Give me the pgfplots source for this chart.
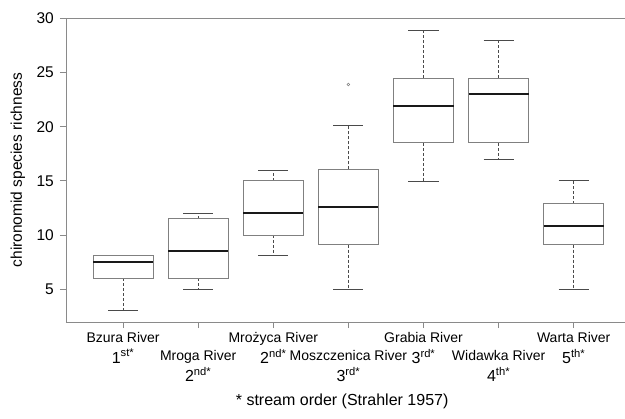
\documentclass[border=0pt]{standalone}
\usepackage{fontspec}
\setmainfont{Liberation Sans}
\usepackage{pgfplots}
\pgfplotsset{compat=1.18}
\usepgfplotslibrary{statistics}
\definecolor{boxgray}{HTML}{808080}
\definecolor{whiskgray}{HTML}{4A4A4A}
\definecolor{axgray}{HTML}{8A8A8A}
\newcommand{\ord}[2]{{\fontsize{16}{18}\selectfont\strut #1\textsuperscript{#2}}}
\begin{document}
\begin{tikzpicture}
\begin{axis}[
  name=ax,
  scale only axis,
  width=559pt, height=304pt,
  xmin=0.24, xmax=7.683,
  ymin=1.96, ymax=30.04,
  axis x line=box, axis y line=left,
  axis line style={-, draw=axgray, line width=0.8pt},
  xtick pos=lower, ytick pos=lower,
  tick align=outside, major tick length=6pt,
  tick style={draw=axgray, line width=0.8pt},
  ytick={5,10,15,20,25,30},
  xtick={1,2,3,4,5,6,7},
  /pgf/number format/assume math mode=true,
  yticklabel style={font=\fontsize{15.5}{18}\selectfont, inner sep=0pt, xshift=-6pt},
  xticklabel style={font=\fontsize{14}{18}\selectfont, align=center, inner sep=0pt, anchor=north, yshift=-2pt},
  xticklabels={
    {\strut Bzura River\\\ord{1}{st*}},
    {\strut\\\strut Mroga River\\\ord{2}{nd*}},
    {\strut Mrożyca River\\\ord{2}{nd*}},
    {\strut\\\strut Moszczenica River\\\ord{3}{rd*}},
    {\strut Grabia River\\\ord{3}{rd*}},
    {\strut\\\strut Widawka River\\\ord{4}{th*}},
    {\strut Warta River\\\ord{5}{th*}}},
  ylabel={chironomid species richness},
  ylabel style={at={(axis description cs:-0.086,0.5)}, anchor=center, font=\fontsize{15.5}{18}\selectfont},
  xlabel={* stream order (Strahler 1957)},
  xlabel style={at={(axis description cs:0.494,0)}, anchor=center, yshift=-79pt, font=\fontsize{16}{18}\selectfont},
  boxplot/draw direction=y,
  boxplot/whisker extend=0.4,
  boxplot/every median/.style={draw=black!90, line width=2pt},
  boxplot/every box/.style={draw=boxgray, line width=0.9pt},
  boxplot/draw/lower whisker/.code={%
    \draw[whiskgray, dash pattern=on 3pt off 2pt, line width=0.7pt]
      (boxplot box cs:\pgfplotsboxplotvalue{lower quartile},0.5) --
      (boxplot box cs:\pgfplotsboxplotvalue{lower whisker},0.5);
    \draw[whiskgray, solid, line width=0.8pt]
      (boxplot whisker cs:\pgfplotsboxplotvalue{lower whisker},0) --
      (boxplot whisker cs:\pgfplotsboxplotvalue{lower whisker},1);
  },
  boxplot/draw/upper whisker/.code={%
    \draw[whiskgray, dash pattern=on 3pt off 2pt, line width=0.7pt]
      (boxplot box cs:\pgfplotsboxplotvalue{upper quartile},0.5) --
      (boxplot box cs:\pgfplotsboxplotvalue{upper whisker},0.5);
    \draw[whiskgray, solid, line width=0.8pt]
      (boxplot whisker cs:\pgfplotsboxplotvalue{upper whisker},0) --
      (boxplot whisker cs:\pgfplotsboxplotvalue{upper whisker},1);
  },
]
% Bzura
\addplot[draw=boxgray, boxplot prepared={draw position=1, box extend=0.8,
  lower whisker=3, lower quartile=6, median=7.5, upper quartile=8.1, upper whisker=8.1}] coordinates {};
% Mroga
\addplot[draw=boxgray, boxplot prepared={draw position=2, box extend=0.8,
  lower whisker=5, lower quartile=6, median=8.5, upper quartile=11.5, upper whisker=12}] coordinates {};
% Mrozyca
\addplot[draw=boxgray, boxplot prepared={draw position=3, box extend=0.8,
  lower whisker=8.1, lower quartile=10, median=12, upper quartile=15, upper whisker=16}] coordinates {};
% Moszczenica
\addplot[draw=boxgray, mark=o, mark size=1.4pt, mark options={draw=boxgray, line width=0.6pt},
  boxplot prepared={draw position=4, box extend=0.8,
  lower whisker=5, lower quartile=9.1, median=12.6, upper quartile=16.05, upper whisker=20.1}] coordinates {(0,23.9)};
% Grabia
\addplot[draw=boxgray, boxplot prepared={draw position=5, box extend=0.8,
  lower whisker=14.95, lower quartile=18.5, median=21.95, upper quartile=24.5, upper whisker=28.9}] coordinates {};
% Widawka
\addplot[draw=boxgray, boxplot prepared={draw position=6, box extend=0.8,
  lower whisker=16.95, lower quartile=18.5, median=23.0, upper quartile=24.5, upper whisker=28.0}] coordinates {};
% Warta
\addplot[draw=boxgray, boxplot prepared={draw position=7, box extend=0.8,
  lower whisker=5, lower quartile=9.1, median=10.85, upper quartile=12.9, upper whisker=15}] coordinates {};
\end{axis}
\pgfresetboundingbox
\path ([xshift=-66pt,yshift=-96pt]ax.south west) rectangle ([yshift=18pt]ax.north east);
\end{tikzpicture}
\end{document}
